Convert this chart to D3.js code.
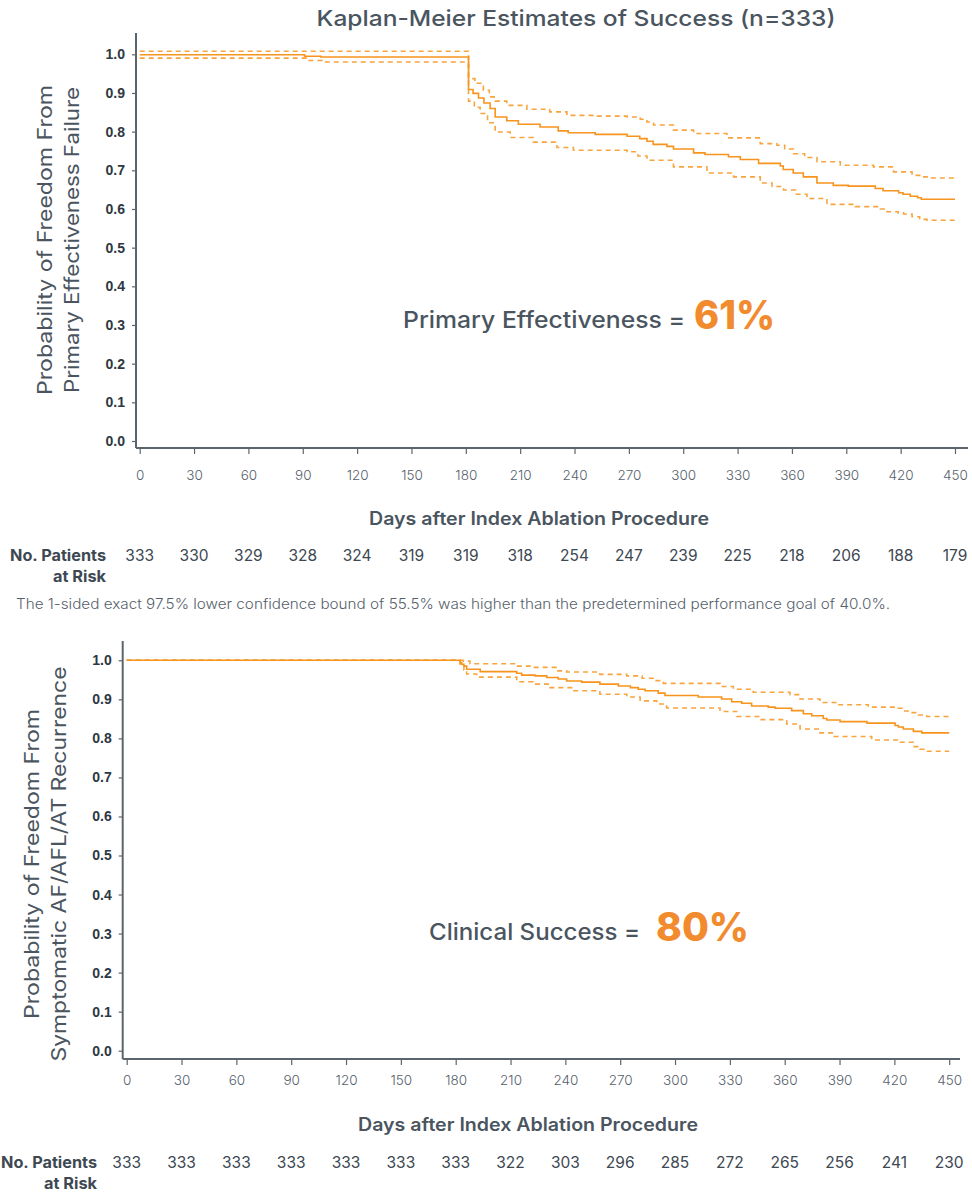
<!DOCTYPE html>
<html>
<head>
<meta charset="utf-8">
<script src="https://cdn.jsdelivr.net/npm/d3@7"></script>
<style>
  body { margin: 0; background: #fff; }
  svg { display: block; }
  text { font-family: "Inter", "Noto Sans", sans-serif; }
</style>
</head>
<body>
<svg id="chart" width="972" height="1193"></svg>
<script>
// x ticks (days) and y ticks (probability)
const dayTicks = [0, 30, 60, 90, 120, 150, 180, 210, 240, 270, 300, 330, 360, 390, 420, 450];
const probTicks = [0, 0.1, 0.2, 0.3, 0.4, 0.5, 0.6, 0.7, 0.8, 0.9, 1.0];

// top panel: primary effectiveness KM estimate + 95% CI, [day, probability]
const peEstimate = [[0,0.999],[91,0.995],[100,0.993],[181.5,0.909],[184,0.899],[187,0.887],[190,0.874],[193.4,0.86],[196.2,0.838],[202.6,0.828],[209,0.819],[221,0.812],[231,0.802],[236.5,0.797],[251.4,0.793],[269,0.788],[276,0.782],[280,0.775],[283.4,0.767],[291,0.762],[294.6,0.755],[305.7,0.745],[312,0.741],[325,0.735],[331.5,0.728],[341.6,0.718],[353.6,0.711],[355.2,0.702],[360.7,0.693],[366.3,0.683],[373.8,0.667],[382.8,0.661],[391.1,0.659],[406,0.653],[410.3,0.647],[418.9,0.642],[421.3,0.638],[425.3,0.633],[429.4,0.629],[431.4,0.625],[450,0.625]];
const peUpper = [[0,1.008],[181.5,0.937],[185,0.925],[189.7,0.907],[193,0.89],[196.2,0.879],[202.6,0.868],[213.7,0.858],[226.3,0.851],[235.8,0.842],[250.5,0.84],[269,0.838],[276.3,0.832],[280,0.825],[283.6,0.817],[294.6,0.804],[305.7,0.795],[324.1,0.784],[342.5,0.769],[351.7,0.765],[356,0.755],[360.9,0.743],[367,0.733],[373.8,0.722],[386.7,0.713],[405,0.709],[416.1,0.696],[426.3,0.687],[430.5,0.683],[434.6,0.68],[450,0.68]];
const peLower = [[0,0.99],[92,0.984],[100.7,0.98],[181.5,0.879],[184.7,0.863],[187.9,0.847],[192,0.823],[196.2,0.799],[204.5,0.785],[217.3,0.773],[230.3,0.759],[239.4,0.752],[269,0.748],[275,0.737],[280,0.726],[294.6,0.709],[313.1,0.693],[327.8,0.683],[342.5,0.667],[349,0.658],[355.4,0.649],[362,0.638],[368.3,0.627],[379.3,0.612],[395,0.606],[408.8,0.6],[412.5,0.593],[418.6,0.59],[421.6,0.587],[426.3,0.58],[430.5,0.573],[434.6,0.571],[450,0.571]];
const peAtRisk = [333, 330, 329, 328, 324, 319, 319, 318, 254, 247, 239, 225, 218, 206, 188, 179];

// bottom panel: clinical success KM estimate + 95% CI
const csEstimate = [[0,1],[182.4,0.994],[183.3,0.99],[184.5,0.985],[186,0.977],[193.4,0.971],[213.4,0.967],[216.1,0.962],[223.4,0.96],[229.8,0.956],[236.1,0.952],[240.7,0.947],[248.9,0.944],[258.9,0.939],[269,0.934],[275.6,0.93],[279.9,0.926],[283.6,0.922],[290.8,0.916],[294.5,0.91],[312.7,0.906],[325.5,0.901],[331,0.894],[336.5,0.89],[341.9,0.883],[351,0.88],[354.7,0.877],[363.8,0.871],[370.2,0.863],[374.8,0.858],[381.1,0.851],[383,0.847],[390.3,0.843],[405,0.839],[420.4,0.833],[422.2,0.829],[424.9,0.824],[430.4,0.818],[435,0.814],[450,0.814]];
const csUpper = [[0,1],[184.2,0.998],[187.8,0.991],[213.4,0.985],[220.6,0.982],[235.3,0.973],[240.7,0.97],[258.9,0.964],[273.6,0.96],[282,0.954],[288.1,0.948],[293.6,0.941],[324.6,0.933],[331.9,0.926],[342.8,0.918],[362.9,0.912],[368.4,0.901],[379.3,0.892],[388.4,0.886],[405.7,0.88],[420.3,0.877],[424.6,0.87],[428.5,0.866],[433.1,0.86],[437.7,0.856],[450,0.856]];
const csLower = [[0,1],[182.4,0.99],[184.5,0.975],[186,0.965],[191.5,0.957],[213.4,0.945],[222.4,0.939],[231.6,0.93],[244.3,0.922],[258.9,0.913],[273.6,0.906],[280.9,0.896],[290,0.888],[295.4,0.878],[324.6,0.869],[333.7,0.856],[346.5,0.848],[361.1,0.837],[368.4,0.824],[379.3,0.814],[386.6,0.805],[407.6,0.796],[422.1,0.79],[430.4,0.779],[434,0.772],[437.7,0.767],[450,0.767]];
const csAtRisk = [333, 333, 333, 333, 333, 333, 333, 322, 303, 296, 285, 272, 265, 256, 241, 230];

const ORANGE = "#f7941d";
const AXIS = "#5d656c";
const INK = "#4a5560";

const svg = d3.select("#chart");

// stretch a text to the width it has in the original artwork
const fit = (sel, w) => sel.attr("textLength", w).attr("lengthAdjust", "spacingAndGlyphs");

svg.append("text")
  .attr("x", 576).attr("y", 26)
  .attr("text-anchor", "middle")
  .attr("font-size", 22).attr("font-weight", 500)
  .attr("fill", INK)
  .text("Kaplan-Meier Estimates of Success (n=333)")
  .call(fit, 519);

function drawPanel(p) {
  const x = d3.scaleLinear().domain([0, 450]).range([p.x0, p.x1]);
  const y = d3.scaleLinear().domain([0, 1]).range([p.y0, p.y1]);
  const g = svg.append("g");

  // axis lines (L-shape, offset from the data area)
  g.append("line").attr("x1", p.ax).attr("x2", p.ax).attr("y1", p.axTop).attr("y2", p.axY)
    .attr("stroke", AXIS).attr("stroke-width", 2);
  g.append("line").attr("x1", p.ax).attr("x2", p.axRight).attr("y1", p.axY).attr("y2", p.axY)
    .attr("stroke", AXIS).attr("stroke-width", 2);

  const yAxis = g.append("g").attr("transform", `translate(${p.ax},0)`)
    .call(d3.axisLeft(y).tickValues(probTicks).tickFormat(d3.format(".1f")).tickSize(4).tickPadding(p.yPad));
  yAxis.select(".domain").remove();
  yAxis.selectAll(".tick line").attr("stroke", AXIS).attr("stroke-width", 1.2);
  yAxis.selectAll("text")
    .style("font-family", "'Liberation Sans', Arial, sans-serif")
    .attr("font-size", 14).attr("font-weight", 700).attr("fill", "#2e3842");

  const xAxis = g.append("g").attr("transform", `translate(0,${p.axY})`)
    .call(d3.axisBottom(x).tickValues(dayTicks).tickSize(6).tickPadding(p.xPad));
  xAxis.select(".domain").remove();
  xAxis.selectAll(".tick line").attr("stroke", AXIS).attr("stroke-width", 1.2);
  xAxis.selectAll("text")
    .style("font-family", "Inter, 'Noto Sans', sans-serif")
    .attr("font-size", 13.5).attr("font-weight", 300).attr("fill", "#56616b");

  // KM curves
  const line = d3.line().x(d => x(d[0])).y(d => y(d[1])).curve(d3.curveStepAfter);
  [p.upper, p.lower].forEach(s => {
    g.append("path").datum(s).attr("d", line)
      .attr("fill", "none").attr("stroke", ORANGE).attr("stroke-opacity", 0.85)
      .attr("stroke-width", 1.6).attr("stroke-dasharray", "5,4");
  });
  g.append("path").datum(p.est).attr("d", line)
    .attr("fill", "none").attr("stroke", ORANGE).attr("stroke-width", 1.6);

  // y axis title, two rotated lines
  [["Probability of Freedom From", p.title1W], [p.yTitle2, p.title2W]].forEach(([t, w], i) => {
    g.append("text")
      .attr("transform", `translate(${p.titleX + i * p.titleGap},${p.titleY}) rotate(-90)`)
      .attr("text-anchor", "middle").attr("font-size", 20).attr("fill", INK)
      .text(t).call(fit, w);
  });

  // annotation
  g.append("text").attr("x", p.annX).attr("y", p.annY).attr("fill", INK)
    .attr("font-size", 23).attr("font-weight", 500)
    .text(p.annLabel).call(fit, p.annW);
  g.append("text").attr("x", p.valX).attr("y", p.annY + 1).attr("fill", "#f28a2e")
    .attr("font-size", 39).attr("font-weight", 800)
    .text(p.annValue).call(fit, p.valW);

  // x axis title
  g.append("text").attr("x", p.xTitleX).attr("y", p.xTitleY)
    .attr("text-anchor", "middle").attr("font-size", 18).attr("font-weight", 600).attr("fill", INK)
    .text("Days after Index Ablation Procedure").call(fit, 340);

  // number at risk
  g.append("text").attr("x", p.nrX).attr("y", p.nrY).attr("text-anchor", "end")
    .attr("font-size", 15.5).attr("font-weight", 700).attr("fill", "#3d4852")
    .text("No. Patients").call(fit, 96);
  g.append("text").attr("x", p.nrX).attr("y", p.nrY + 21).attr("text-anchor", "end")
    .attr("font-size", 15.5).attr("font-weight", 700).attr("fill", "#3d4852")
    .text("at Risk").call(fit, 53);
  g.selectAll(".nr").data(p.atRisk).join("text")
    .attr("x", (d, i) => x(dayTicks[i])).attr("y", p.nrY)
    .attr("text-anchor", "middle").attr("font-size", 15.5).attr("fill", "#3d4852")
    .text(d => d);
}

drawPanel({
  x0: 139.7, x1: 955, y0: 441, y1: 54.3,
  ax: 136, axTop: 33, axY: 448, axRight: 968, yPad: 7, xPad: 16,
  est: peEstimate, upper: peUpper, lower: peLower, atRisk: peAtRisk,
  titleX: 52, titleY: 240, titleGap: 27, yTitle2: "Primary Effectiveness Failure", title1W: 310, title2W: 306,
  annX: 403, annY: 328, annLabel: "Primary Effectiveness =", annW: 282,
  valX: 694, annValue: "61%", valW: 81,
  xTitleX: 539, xTitleY: 525, nrX: 106, nrY: 561
});

svg.append("text").attr("x", 16).attr("y", 609)
  .attr("font-size", 14).attr("font-weight", 300).attr("fill", "#56616b")
  .text("The 1-sided exact 97.5% lower confidence bound of 55.5% was higher than the predetermined performance goal of 40.0%.")
  .call(fit, 874);

drawPanel({
  x0: 126.7, x1: 949.2, y0: 1050.7, y1: 660.3,
  ax: 122.7, axTop: 641, axY: 1059, axRight: 960, yPad: 7, xPad: 10,
  est: csEstimate, upper: csUpper, lower: csLower, atRisk: csAtRisk,
  titleX: 39, titleY: 864, titleGap: 27, yTitle2: "Symptomatic AF/AFL/AT Recurrence", title1W: 310, title2W: 395,
  annX: 429, annY: 940, annLabel: "Clinical Success =", annW: 211,
  valX: 656, annValue: "80%", valW: 93,
  xTitleX: 528, xTitleY: 1131, nrX: 97, nrY: 1168
});
</script>
</body>
</html>
